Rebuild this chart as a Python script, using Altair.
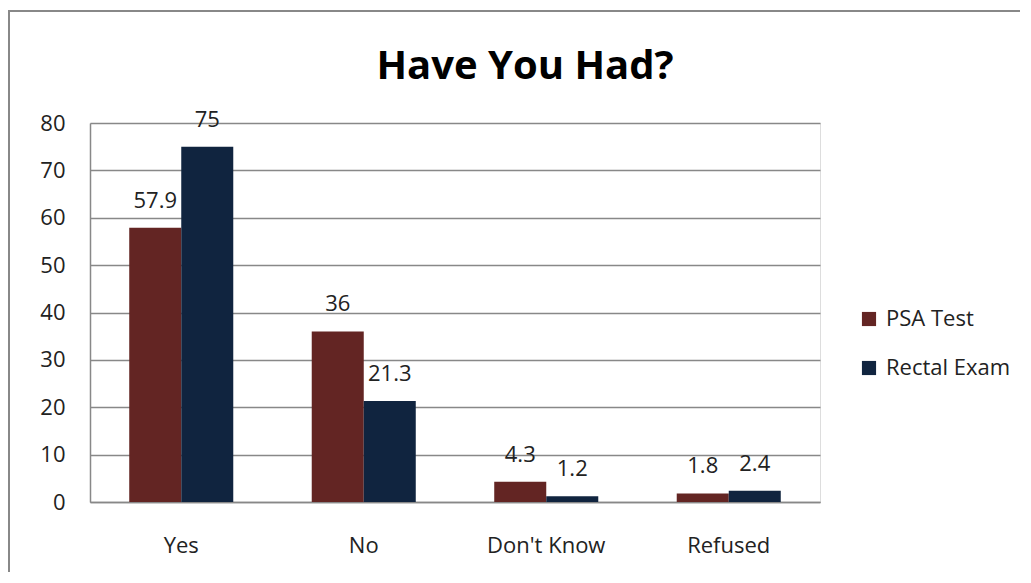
import altair as alt
import pandas as pd

categories = ["Yes", "No", "Don't Know", "Refused"]
series = ["PSA Test", "Rectal Exam"]
psa_values = [57.9, 36, 4.3, 1.8]
rectal_values = [75, 21.3, 1.2, 2.4]
colors = ["#632523", "#10243F"]
y_ticks = [0, 10, 20, 30, 40, 50, 60, 70, 80]

rows = []
for c, p, r in zip(categories, psa_values, rectal_values):
    rows.append({"category": c, "series": series[0], "value": p})
    rows.append({"category": c, "series": series[1], "value": r})
df = pd.DataFrame(rows)

FONT = "Open Sans"
FS = 22

x_enc = alt.X("category:N", sort=categories, title=None,
              scale=alt.Scale(paddingInner=0.43, paddingOuter=0.215),
              axis=alt.Axis(labelAngle=0, labelFontSize=FS, labelFont=FONT,
                            labelColor="#222", labelPadding=33, ticks=False,
                            domainColor="#888", domainWidth=1.5, grid=False))
xoff = alt.XOffset("series:N", sort=series, scale=alt.Scale(paddingInner=0, paddingOuter=0))

base = alt.Chart(df)

bars = base.mark_bar().encode(
    x=x_enc,
    xOffset=xoff,
    y=alt.Y("value:Q", title=None,
            scale=alt.Scale(domain=[0, 80], nice=False),
            axis=alt.Axis(values=y_ticks, labelFontSize=FS, labelFont=FONT,
                          labelColor="#222", labelPadding=25, ticks=False,
                          domainColor="#888", domainWidth=1.5,
                          gridColor="#888", gridWidth=1.5)),
    color=alt.Color("series:N", sort=series,
                    scale=alt.Scale(domain=series, range=colors),
                    legend=alt.Legend(title=None, orient="none", legendX=768, legendY=185,
                                      labelFontSize=FS, labelFont=FONT, labelColor="#222",
                                      symbolType="square", symbolSize=200,
                                      symbolStrokeWidth=0, rowPadding=27, labelOffset=6)),
)

labels = base.mark_text(dy=-15, fontSize=FS, font=FONT, color="#222", baseline="bottom").encode(
    x=alt.X("category:N", sort=categories),
    xOffset=alt.XOffset("series:N", sort=series),
    y=alt.Y("value:Q"),
    text=alt.Text("value:Q"),
)

frame = alt.Chart(pd.DataFrame({"a": [0]})).mark_rect(
    fill="transparent", stroke="#888", strokeWidth=2
).encode(x=alt.value(-81), x2=alt.value(960), y=alt.value(-112), y2=alt.value(480))

chart = alt.layer(frame, bars, labels).properties(
    width=730, height=379,
    title=alt.TitleParams("Have You Had?", fontSize=40, font=FONT, fontWeight="bold",
                          color="#000", anchor="middle", dx=70, offset=-77),
    padding={"left": 82, "top": 115, "right": 200, "bottom": 70},
    autosize=alt.AutoSizeParams(type="none"),
).configure_view(stroke=None).configure(background="white")

chart.save("out.html", embed_options={"renderer": "svg", "actions": False})
